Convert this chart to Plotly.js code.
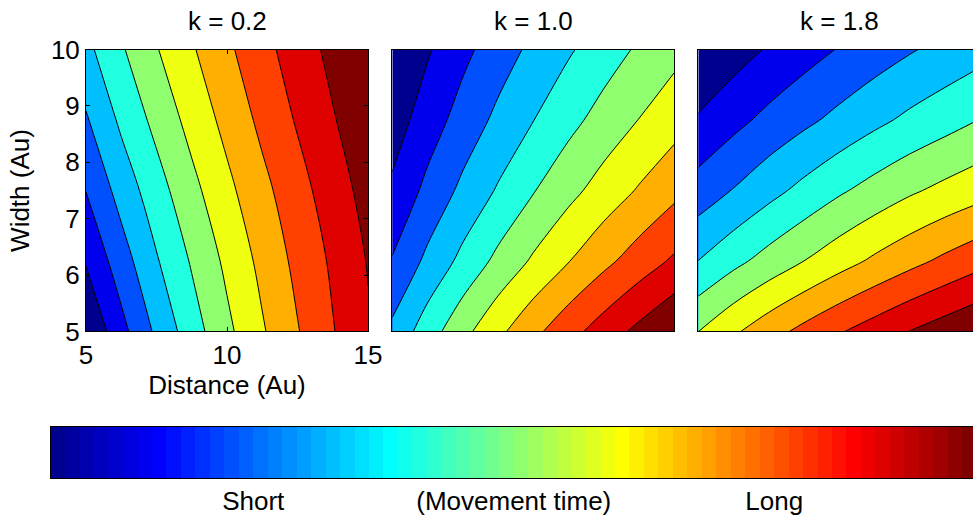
<!DOCTYPE html>
<html>
<head>
<meta charset="utf-8">
<script src="https://cdn.plot.ly/plotly-3.0.1.min.js"></script>
<style>
  html, body { margin: 0; padding: 0; overflow: hidden; background: #fff; }
  #chart { width: 990px; height: 516px; }
</style>
</head>
<body>
<div id="chart"></div>
<script>
// Grid of the movement-time surface: distance along x, target width along y.
const distance = [5, 6.25, 7.5, 8.75, 10, 11.25, 12.5, 13.75, 15];
const width = [5, 6.25, 7.5, 8.75, 10];

// Movement time in contour-step units (rows follow `width`, columns follow `distance`).
const timeK02 = [
  [0.03, 1.68, 3.19, 4.54, 5.77, 6.89, 7.94, 8.94, 9.89],
  [1.08, 2.54, 3.91, 5.10, 6.22, 7.27, 8.26, 9.16, 10.06],
  [2.02, 3.38, 4.58, 5.71, 6.75, 7.72, 8.63, 9.51, 10.36],
  [2.89, 4.19, 5.29, 6.34, 7.30, 8.24, 9.10, 9.92, 10.70],
  [3.73, 4.88, 5.94, 6.89, 7.81, 8.68, 9.49, 10.27, 10.99]
];
const timeK10 = [
  [3.23, 4.52, 5.70, 6.76, 7.74, 8.64, 9.47, 10.25, 10.99],
  [2.07, 3.23, 4.27, 5.25, 6.14, 6.96, 7.74, 8.47, 9.15],
  [1.18, 2.26, 3.23, 4.10, 4.94, 5.70, 6.42, 7.09, 7.74],
  [0.51, 1.50, 2.40, 3.23, 3.98, 4.70, 5.38, 6.02, 6.61],
  [0.01, 0.89, 1.74, 2.51, 3.23, 3.88, 4.52, 5.14, 5.70]
];
const timeK18 = [
  [5.99, 6.84, 7.60, 8.28, 8.91, 9.47, 10.02, 10.50, 10.98],
  [4.01, 4.72, 5.38, 6.00, 6.60, 7.17, 7.70, 8.21, 8.69],
  [2.43, 3.05, 3.68, 4.28, 4.86, 5.37, 5.85, 6.26, 6.64],
  [1.11, 1.71, 2.27, 2.78, 3.27, 3.76, 4.21, 4.61, 5.02],
  [0.00, 0.56, 1.10, 1.59, 2.06, 2.49, 2.91, 3.29, 3.65]
];

const panelTitles = ['k = 0.2', 'k = 1.0', 'k = 1.8'];
const xTicks = [5, 10, 15];
const yTicks = [5, 6, 7, 8, 9, 10];

// Steps of the movement-time colour bar.
const barSteps = [0, 1, 2, 3, 4, 5, 6, 7, 8, 9, 10, 11, 12, 13, 14, 15,
                  16, 17, 18, 19, 20, 21, 22, 23, 24, 25, 26, 27, 28, 29, 30, 31,
                  32, 33, 34, 35, 36, 37, 38, 39, 40, 41, 42, 43, 44, 45, 46, 47,
                  48, 49, 50, 51, 52, 53, 54, 55, 56, 57, 58, 59, 60, 61, 62, 63];
const barLabels = ['Short', '(Movement time)', 'Long'];
const barLabelAt = [13.5, 31.5, 49.5];

// Classic 64-entry "jet" palette.
function jetPalette(m) {
  const n = Math.ceil(m / 4);
  const u = [];
  for (let i = 1; i <= n; i++) u.push(i / n);
  for (let i = 0; i < n - 1; i++) u.push(1);
  for (let i = n; i >= 1; i--) u.push(i / n);
  const off = Math.ceil(n / 2) - (m % 4 === 1 ? 1 : 0);
  const cols = [];
  for (let i = 1; i <= m; i++) {
    const pick = (idx) => (idx >= 1 && idx <= u.length) ? u[idx - 1] : 0;
    const g = pick(i - off);
    const r = pick(i - off - n);
    const b = pick(i - off + n);
    cols.push('rgb(' + Math.round(r * 255) + ',' + Math.round(g * 255) + ',' + Math.round(b * 255) + ')');
  }
  return cols;
}
const jet64 = jetPalette(64);

// Eleven filled bands per panel, taken from the palette.
const bandIndex = [1, 7, 13, 20, 26, 33, 39, 45, 52, 58, 64];
const bandScale = bandIndex.map((idx, k) => [k / 10, jet64[idx - 1]]);
const barScale = jet64.map((c, i) => [i / 63, c]);

const W = 990, H = 516;
const px = (v) => v / W;
const py = (v) => (H - v) / H;

const plotTop = 49.6, plotBottom = 331.4;
const panelX = [[86, 368], [392.3, 674.1], [698.3, 980.1]];
const grids = [timeK02, timeK10, timeK18];

const traces = grids.map((z, i) => ({
  type: 'contour',
  x: distance,
  y: width,
  z: z,
  xaxis: i === 0 ? 'x' : 'x' + (i + 1),
  yaxis: i === 0 ? 'y' : 'y' + (i + 1),
  autocontour: false,
  contours: { start: 1, end: 10, size: 1, coloring: 'fill', showlines: true },
  line: { color: '#000', width: 1, smoothing: 1 },
  colorscale: bandScale,
  showscale: false,
  hoverinfo: 'skip'
}));

traces.push({
  type: 'heatmap',
  z: [barSteps],
  xaxis: 'x4',
  yaxis: 'y4',
  zmin: 0,
  zmax: 63,
  colorscale: barScale,
  showscale: false,
  hoverinfo: 'skip'
});

const font = { family: 'Liberation Sans, Arial, Helvetica, sans-serif', size: 26, color: '#000' };

const baseAxis = {
  showgrid: false,
  zeroline: false,
  showline: true,
  linecolor: '#000',
  linewidth: 1,
  mirror: true,
  ticks: '',
  showticklabels: false,
  fixedrange: true
};

const layout = {
  width: W,
  height: H,
  autosize: false,
  margin: { l: 0, r: 0, t: 0, b: 0 },
  paper_bgcolor: '#fff',
  plot_bgcolor: '#fff',
  font: font,
  showlegend: false,
  xaxis: Object.assign({}, baseAxis, {
    anchor: 'y',
    domain: [px(panelX[0][0]), px(panelX[0][1])],
    range: [5, 15],
    ticks: 'inside', ticklen: 4, tickcolor: '#000', mirror: 'ticks',
    tickvals: xTicks, showticklabels: true, ticklabelstandoff: 0,
    title: { text: 'Distance (Au)', font: font, standoff: 6 }
  }),
  yaxis: Object.assign({}, baseAxis, {
    anchor: 'x',
    domain: [py(plotBottom), py(plotTop)],
    range: [5, 10],
    ticks: 'inside', ticklen: 4, tickcolor: '#000', mirror: 'ticks',
    tickvals: yTicks, showticklabels: true, ticklabelstandoff: 0,
    title: { text: 'Width (Au)', font: font, standoff: 13 }
  }),
  xaxis2: Object.assign({}, baseAxis, { anchor: 'y2', domain: [px(panelX[1][0]), px(panelX[1][1])], range: [5, 15] }),
  yaxis2: Object.assign({}, baseAxis, { anchor: 'x2', domain: [py(plotBottom), py(plotTop)], range: [5, 10] }),
  xaxis3: Object.assign({}, baseAxis, { anchor: 'y3', domain: [px(panelX[2][0]), px(panelX[2][1])], range: [5, 15] }),
  yaxis3: Object.assign({}, baseAxis, { anchor: 'x3', domain: [py(plotBottom), py(plotTop)], range: [5, 10] }),
  xaxis4: Object.assign({}, baseAxis, {
    anchor: 'y4',
    domain: [px(50.7), px(976.8)],
    range: [-0.5, 63.5],
    tickvals: barLabelAt, ticktext: barLabels, showticklabels: true,
    ticklabelstandoff: 0
  }),
  yaxis4: Object.assign({}, baseAxis, { anchor: 'x4', domain: [py(478), py(427)], range: [-0.5, 0.5] }),
  annotations: panelTitles.map((t, i) => ({
    text: t,
    xref: 'paper', yref: 'paper',
    x: px((panelX[i][0] + panelX[i][1]) / 2),
    y: py(21),
    xanchor: 'center', yanchor: 'middle',
    showarrow: false,
    font: font
  }))
};

Plotly.newPlot('chart', traces, layout, { displayModeBar: false, staticPlot: true });
</script>
</body>
</html>
